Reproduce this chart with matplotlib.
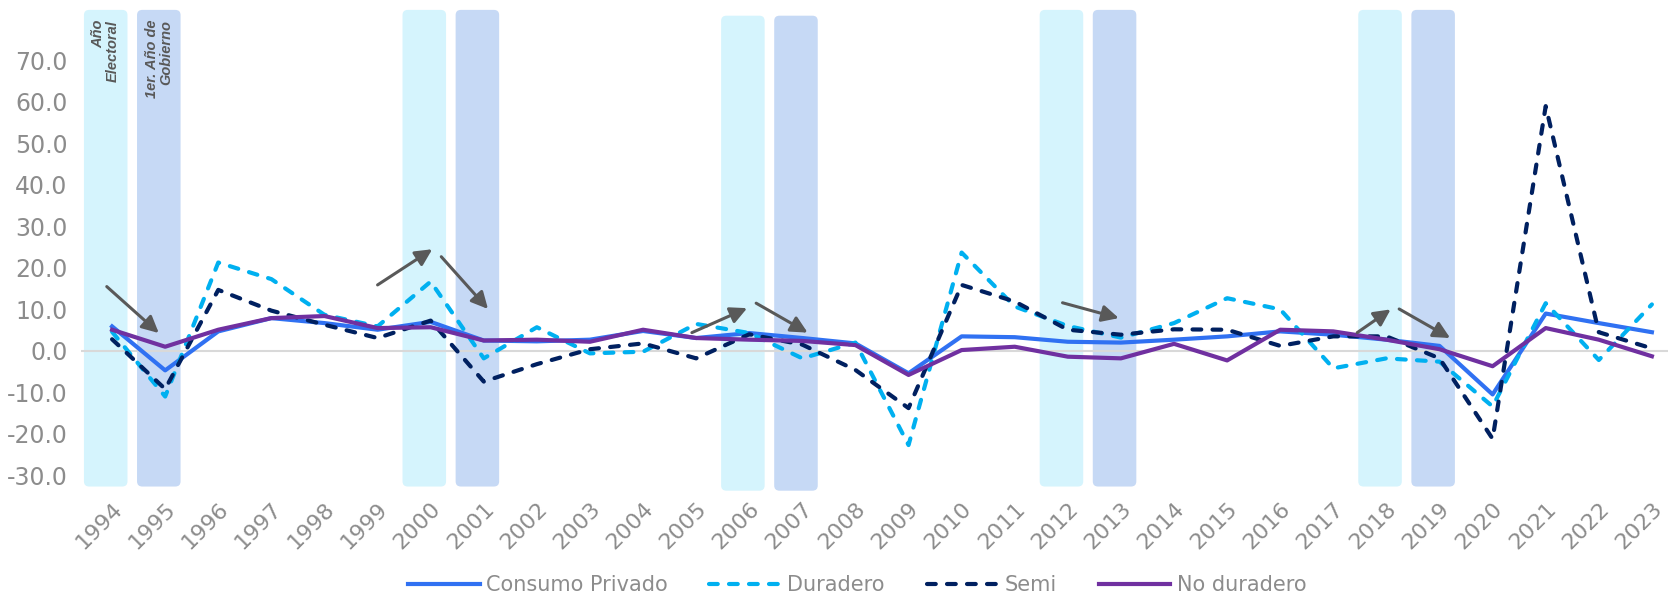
import matplotlib
matplotlib.use("Agg")
import matplotlib.pyplot as plt
from matplotlib.patches import FancyBboxPatch

# Annual growth of private consumption by component (%)
years = list(range(1994, 2024))
consumo = [5.9, -4.7, 4.7, 7.9, 6.7, 5.1, 7.0, 2.5, 2.3, 2.7, 4.8, 3.1, 4.3, 3.1, 1.8,
           -5.4, 3.5, 3.3, 2.2, 2.0, 2.7, 3.5, 4.7, 3.9, 2.7, 1.2, -10.5, 9.0, 6.7, 4.5]
duradero = [4.6, -11.0, 21.3, 17.3, 8.7, 5.9, 16.7, -1.8, 5.7, -0.6, -0.2, 6.5, 4.3, -1.8, 2.0,
            -22.7, 23.7, 10.7, 6.0, 3.2, 6.7, 12.7, 10.0, -4.2, -1.8, -2.6, -13.4, 11.5, -2.2, 11.2]
semi = [2.8, -9.2, 14.7, 9.7, 6.3, 3.1, 7.3, -7.4, -3.2, 0.4, 1.8, -1.8, 4.0, 1.5, -4.6,
        -13.8, 15.9, 11.9, 5.1, 3.9, 5.2, 5.1, 1.2, 3.5, 3.5, -1.8, -21.2, 59.0, 4.5, 0.6]
no_duradero = [5.1, 1.0, 5.1, 7.9, 8.4, 5.5, 5.7, 2.5, 2.7, 2.2, 5.1, 3.1, 2.7, 2.4, 1.4,
               -5.8, 0.2, 1.0, -1.4, -1.8, 1.7, -2.3, 5.1, 4.7, 2.7, 0.4, -3.7, 5.5, 2.7, -1.3]

# Election years and first year of each new government
election_years = [1994, 2000, 2006, 2012, 2018]
first_gov_years = [1995, 2001, 2007, 2013, 2019]

# Arrows marking the move from election year to first year of government
arrows = [
    ((1993.9, 15.5), (1994.88, 4.3)),
    ((1999.0, 15.9), (2000.03, 24.5)),
    ((2000.2, 22.7), (2001.08, 10.1)),
    ((2004.92, 4.4), (2005.96, 10.3)),
    ((2006.13, 11.5), (2007.1, 4.4)),
    ((2011.9, 11.6), (2012.96, 7.9)),
    ((2017.45, 4.4), (2018.08, 10.0)),
    ((2018.24, 10.1), (2019.2, 3.1)),
]

fig = plt.figure(figsize=(16.69, 5.97), dpi=100)
ax = fig.add_axes([0.0487, 0.176, 0.9506, 0.813])
ax.set_xlim(1993.42, 2023.3)
ax.set_ylim(-34, 83)

# shaded columns with rounded corners
band_w = 0.82
band_shift = -0.12
for yrs, col in [(election_years, '#D5F4FD'), (first_gov_years, '#C6D9F5')]:
    for yr in yrs:
        bottom, top = (-33.7, 80.8) if yr in (2006, 2007) else (-32.7, 82.2)
        box = FancyBboxPatch((yr + band_shift - band_w / 2, bottom), band_w, top - bottom,
                             boxstyle="round,pad=0,rounding_size=0.1",
                             mutation_aspect=12.5, fc=col, ec='none', zorder=0,
                             clip_on=False)
        ax.add_patch(box)

label_kw = dict(rotation=90, ha='center', va='top', multialignment='right', fontsize=10.5,
                fontweight='bold', fontstyle='italic', color='#595959',
                family='Liberation Sans', linespacing=1.0)
ax.text(1994 + band_shift, 79.8, "Año\nElectoral", **label_kw)
ax.text(1995 + band_shift, 79.8, "1er. Año de\nGobierno", **label_kw)

ax.axhline(0, color='#D9D9D9', lw=1.5, zorder=1)

ax.plot(years, consumo, color='#3071F2', lw=3, label='Consumo Privado', zorder=3)
ax.plot(years, duradero, color='#00B0F0', lw=3, ls=(0, (2.1, 2.7)), dash_capstyle='round',
        label='Duradero', zorder=3)
ax.plot(years, semi, color='#002060', lw=3, ls=(0, (2.1, 2.7)), dash_capstyle='round',
        label='Semi', zorder=4)
ax.plot(years, no_duradero, color='#7030A0', lw=3, label='No duradero', zorder=5)

for start, end in arrows:
    ax.annotate('', xy=end, xytext=start,
                arrowprops=dict(arrowstyle='-|>', color='#595959', lw=2.2, mutation_scale=25,
                                shrinkA=0, shrinkB=0), zorder=6)

for s in ax.spines.values():
    s.set_visible(False)
ax.set_yticks(range(-30, 80, 10))
ax.set_yticklabels([f"{v:.1f}" for v in range(-30, 80, 10)])
ax.set_xticks(years)
ax.set_xticklabels([str(y) for y in years], rotation=45, ha='right', va='top',
                   rotation_mode='anchor')
ax.tick_params(axis='both', length=0, labelsize=16, labelcolor='#8C8C8C',
               labelfontfamily='DejaVu Sans')
ax.tick_params(axis='x', pad=5)
ax.tick_params(axis='y', pad=10, labelsize=17)

leg = fig.legend(loc='center', bbox_to_anchor=(0.5135, 0.02), ncol=4, frameon=False,
                 handlelength=3.45, columnspacing=2.0, handletextpad=0.3,
                 prop={'family': 'DejaVu Sans', 'size': 15})
for t in leg.get_texts():
    t.set_color('#8C8C8C')

plt.savefig('out.png', dpi=100)
